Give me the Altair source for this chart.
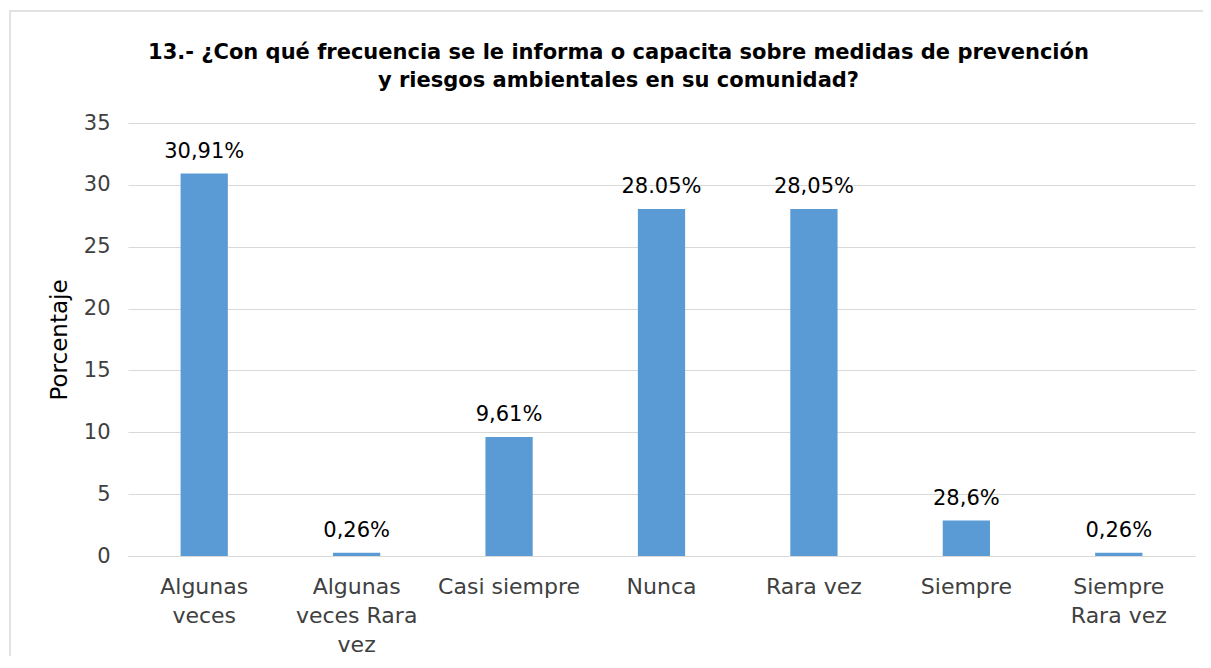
import altair as alt
import pandas as pd

categories = ["Algunas\nveces", "Algunas\nveces Rara\nvez", "Casi siempre", "Nunca",
              "Rara vez", "Siempre", "Siempre\nRara vez"]
values = [30.91, 0.26, 9.61, 28.05, 28.05, 2.86, 0.26]
value_labels = ["30,91%", "0,26%", "9,61%", "28.05%", "28,05%", "28,6%", "0,26%"]
y_ticks = [0, 5, 10, 15, 20, 25, 30, 35]

df = pd.DataFrame({"cat": categories, "val": values, "lab": value_labels})

FONT = "DejaVu Sans"
TXT = "#404040"

x = alt.X("cat:N", sort=categories, title=None,
          scale=alt.Scale(paddingInner=0.69, paddingOuter=0.345),
          axis=alt.Axis(labelExpr="split(datum.label, '\\n')", labelAngle=0,
                        labelFontSize=22, labelColor=TXT, labelFont=FONT,
                        labelPadding=20, labelLineHeight=29, ticks=False,
                        domainColor="#d9d9d9", domainWidth=1, labelBaseline="top"))
y = alt.Y("val:Q", title="Porcentaje",
          scale=alt.Scale(domain=[0, 35], nice=False),
          axis=alt.Axis(values=y_ticks, grid=True, gridColor="#d9d9d9", domain=False,
                        ticks=False, labelFontSize=21, labelColor=TXT, labelFont=FONT,
                        labelPadding=18, titleFontSize=23, titleColor="#000",
                        titleFont=FONT, titleFontWeight="normal", titlePadding=12))

base = alt.Chart(df)
bars = base.mark_bar(color="#5B9BD5").encode(x=x, y=y)
texts = base.mark_text(fontSize=21, font=FONT, color="#000", baseline="bottom", dy=-12).encode(
    x=alt.X("cat:N", sort=categories), y="val:Q", text="lab:N")

frame = alt.Chart(pd.DataFrame({"a": [0]})).mark_rect(
    fill=None, stroke="#d9d9d9", strokeWidth=1.5).encode(
    x=alt.value(-118), x2=alt.value(1210), y=alt.value(-112), y2=alt.value(700))

chart = alt.layer(frame, bars, texts).properties(
    width=1067, height=433,
    autosize=alt.AutoSizeParams(type="none"),
    padding={"left": 120, "top": 115, "right": 8, "bottom": 100},
    title=alt.TitleParams(
        ["13.- ¿Con qué frecuencia se le informa o capacita sobre medidas de prevención",
         "y riesgos ambientales en su comunidad?"],
        fontSize=21, font="DejaVu Sans", fontWeight="bold", color="#000",
        anchor="middle", frame="group", dx=-43, dy=103, offset=22, lineHeight=28),
).configure_view(stroke=None)

chart.save("out.html", embed_options={"renderer": "svg", "actions": False})
